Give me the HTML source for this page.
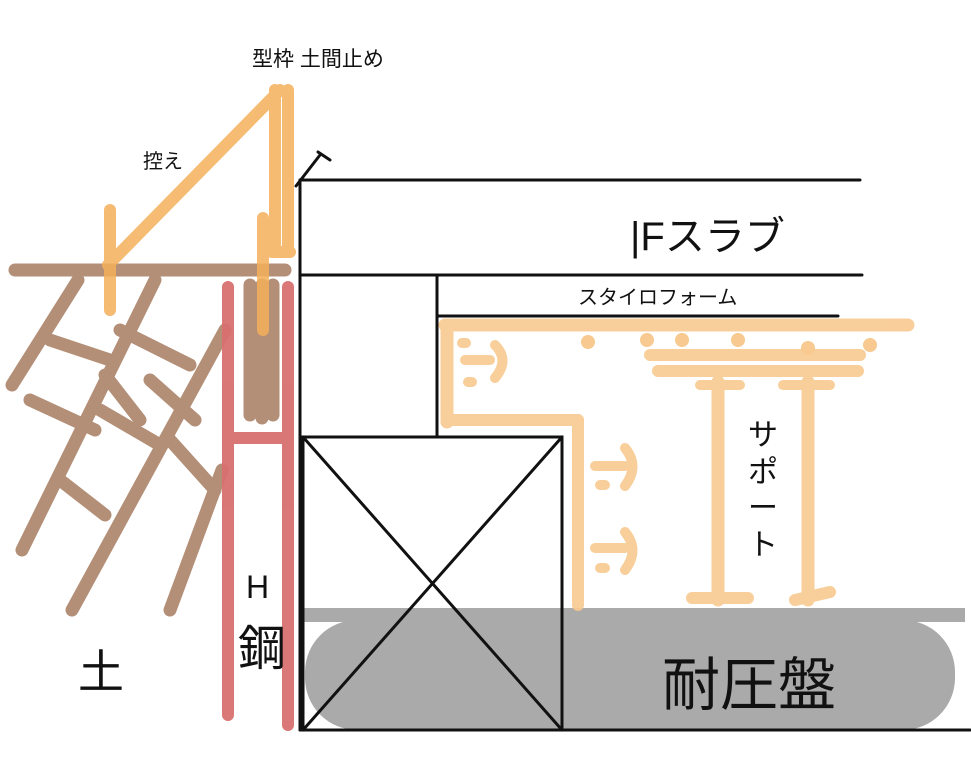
<!DOCTYPE html>
<html><head><meta charset="utf-8"><style>
html,body{margin:0;padding:0;background:#fff;}
svg{display:block;}
text{font-family:"Liberation Sans","Noto Sans CJK JP",sans-serif;fill:#111;}
</style></head><body>
<svg width="971" height="782" viewBox="0 0 971 782" xmlns="http://www.w3.org/2000/svg">
<!-- gray base -->
<rect x="303" y="608" width="662" height="14" fill="#aaa"/>
<rect x="305" y="620" width="650" height="110" rx="52" fill="#aaa"/>
<text x="662" y="705" font-size="58">耐圧盤</text>

<!-- light orange -->
<g stroke="#f8c990" stroke-linecap="round" fill="none" opacity="0.9">
<line x1="445" y1="325" x2="908" y2="325" stroke-width="13"/>
<line x1="447" y1="325" x2="447" y2="422" stroke-width="13"/>
<line x1="447" y1="420" x2="578" y2="420" stroke-width="12"/>
<line x1="578" y1="420" x2="578" y2="605" stroke-width="12"/>
<line x1="650" y1="355" x2="860" y2="355" stroke-width="12"/>
<line x1="658" y1="371" x2="858" y2="371" stroke-width="12"/>
<line x1="718" y1="382" x2="718" y2="600" stroke-width="13"/>
<line x1="808" y1="382" x2="808" y2="600" stroke-width="13"/>
<line x1="692" y1="598" x2="748" y2="598" stroke-width="12"/>
<line x1="795" y1="600" x2="830" y2="592" stroke-width="12"/>
<line x1="783" y1="385" x2="830" y2="385" stroke-width="10"/>
<line x1="700" y1="385" x2="740" y2="385" stroke-width="10"/>
<line x1="465" y1="360" x2="490" y2="360" stroke-width="10"/>
<path d="M495 345 Q510 360 495 378" stroke-width="10"/>
<line x1="595" y1="466" x2="625" y2="466" stroke-width="10"/>
<path d="M625 448 Q640 466 625 486" stroke-width="10"/>
<line x1="595" y1="548" x2="625" y2="548" stroke-width="10"/>
<path d="M625 532 Q640 550 625 570" stroke-width="10"/>
<line x1="600" y1="485" x2="605" y2="485" stroke-width="10"/>
<line x1="600" y1="568" x2="605" y2="568" stroke-width="10"/>
<line x1="468" y1="382" x2="472" y2="382" stroke-width="10"/>
<line x1="462" y1="343" x2="466" y2="343" stroke-width="10"/>
</g>
<g fill="#f8c990">
<circle cx="588" cy="342" r="7"/><circle cx="647" cy="340" r="7"/><circle cx="682" cy="340" r="7"/>
<circle cx="738" cy="340" r="7"/><circle cx="808" cy="348" r="7"/><circle cx="870" cy="345" r="7"/>
</g>

<!-- brown lattice -->
<g stroke="#9a6a4a" stroke-linecap="round" fill="none" opacity="0.75" stroke-width="13">
<line x1="15" y1="270" x2="285" y2="270"/>
<line x1="78" y1="280" x2="12" y2="385"/>
<line x1="155" y1="280" x2="22" y2="550"/>
<line x1="225" y1="330" x2="72" y2="610"/>
<line x1="222" y1="470" x2="170" y2="610"/>
<line x1="50" y1="340" x2="110" y2="360"/>
<line x1="30" y1="400" x2="95" y2="430"/>
<line x1="120" y1="330" x2="190" y2="365"/>
<line x1="105" y1="375" x2="140" y2="420"/>
<line x1="100" y1="410" x2="160" y2="445"/>
<line x1="170" y1="440" x2="215" y2="490"/>
<line x1="60" y1="480" x2="105" y2="515"/>
<line x1="150" y1="380" x2="195" y2="420"/>
<line x1="250" y1="285" x2="250" y2="415"/>
<line x1="262" y1="285" x2="262" y2="418"/>
<line x1="273" y1="285" x2="273" y2="415"/>
</g>

<!-- red H steel -->
<g stroke="#d87070" stroke-linecap="round" fill="none" opacity="0.95" stroke-width="12">
<line x1="228" y1="287" x2="228" y2="715"/>
<line x1="288" y1="287" x2="288" y2="725"/>
<line x1="228" y1="438" x2="288" y2="438"/>
</g>

<!-- dark orange formwork -->
<g stroke="#f4b05a" stroke-linecap="round" fill="none" opacity="0.85" stroke-width="12">
<line x1="108" y1="265" x2="280" y2="90"/>
<line x1="275" y1="90" x2="275" y2="245"/>
<line x1="288" y1="90" x2="288" y2="250"/>
<line x1="110" y1="210" x2="110" y2="310"/>
<line x1="263" y1="218" x2="263" y2="330"/>
<line x1="272" y1="252" x2="290" y2="252"/>
</g>

<!-- black lines -->
<g stroke="#111" stroke-width="3" fill="none" stroke-linecap="round">
<line x1="300" y1="180" x2="860" y2="180"/>
<line x1="296" y1="186" x2="320" y2="155"/>
<line x1="318" y1="152" x2="330" y2="160"/>
<line x1="300" y1="180" x2="300" y2="730"/>
<line x1="300" y1="275" x2="862" y2="275"/>
<line x1="437" y1="275" x2="437" y2="437"/>
<line x1="437" y1="316" x2="838" y2="316"/>
<rect x="303" y="437" width="259" height="293"/>
<line x1="303" y1="437" x2="562" y2="730"/>
<line x1="562" y1="437" x2="303" y2="730"/>
<line x1="300" y1="730" x2="970" y2="730"/>
</g>

<!-- labels -->
<text x="252" y="66" font-size="21">型枠 土間止め</text>
<text x="143" y="168" font-size="20">控え</text>
<text x="630" y="250" font-size="40">|Fスラブ</text>
<text x="578" y="304" font-size="20">スタイロフォーム</text>
<text x="748" y="445" font-size="30">サ</text>
<text x="748" y="482" font-size="30">ポ</text>
<text x="748" y="518" font-size="30">ー</text>
<text x="748" y="555" font-size="30">ト</text>
<text x="246" y="598" font-size="32">H</text>
<text x="238" y="665" font-size="48">鋼</text>
<text x="78" y="688" font-size="46">土</text>
</svg>
</body></html>
